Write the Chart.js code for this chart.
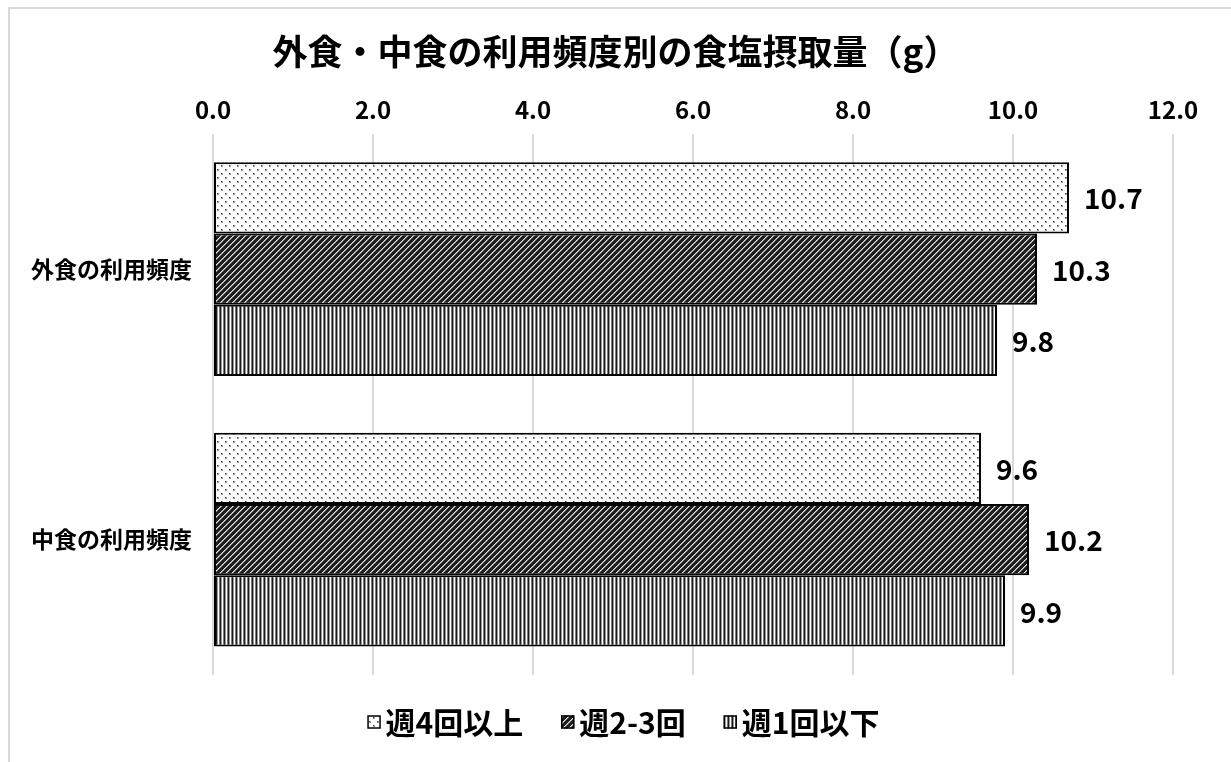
<!DOCTYPE html>
<html>
<head>
<meta charset="utf-8">
<script src="https://cdn.jsdelivr.net/npm/chart.js@4.4.1/dist/chart.umd.min.js"></script>
<style>
  html, body { margin: 0; padding: 0; background: #fff; overflow: hidden; }
  #frame { position: absolute; left: 8px; top: 7px; width: 1300px; height: 800px;
           border: 2px solid #d9d9d9; box-sizing: border-box; }
  #wrap { position: absolute; left: 0; top: 0; width: 1231px; height: 762px; }
</style>
</head>
<body>
<div id="frame"></div>
<div id="wrap"><canvas id="c"></canvas></div>
<script>
// Categories, series and tick values
const categories = ['外食の利用頻度', '中食の利用頻度'];
const seriesNames = ['週4回以上', '週2-3回', '週1回以下'];
const weekly4OrMore = [10.7, 9.6];
const weekly2to3 = [10.3, 10.2];
const weekly1OrLess = [9.8, 9.9];
const xTickValues = [0, 2, 4, 6, 8, 10, 12];
const chartTitle = '外食・中食の利用頻度別の食塩摂取量（g）';

const FONT = '"Noto Sans CJK JP", "Noto Sans", sans-serif';

// Small repeating tiles used as bar fills
function makeTile(w, h, colorAt) {
  const c = document.createElement('canvas');
  c.width = w; c.height = h;
  const g = c.getContext('2d');
  for (let y = 0; y < h; y++) {
    for (let x = 0; x < w; x++) {
      g.fillStyle = colorAt(x, y);
      g.fillRect(x, y, 1, 1);
    }
  }
  return g.createPattern(c, 'repeat');
}

// fine dots on white
const dotFill = makeTile(8, 8, (x, y) => {
  if ((x === 1 || x === 2) && (y === 1 || y === 2)) return (x === 1 && y === 1) ? '#444' : '#9a9a9a';
  if ((x === 5 || x === 6) && (y === 5 || y === 6)) return (x === 5 && y === 5) ? '#444' : '#9a9a9a';
  return '#ffffff';
});
// dark fill with light upward diagonals
const diagFill = makeTile(6, 6, (x, y) => {
  const k = (x + y) % 6;
  if (k === 0) return '#e6e6e6';
  if (k === 1) return '#8a8a8a';
  return '#1e1e1e';
});
// vertical stripes
const stripeFill = makeTile(4, 1, (x) => ['#1a1a1a', '#9a9a9a', '#ffffff', '#7a7a7a'][x]);

const fills = [dotFill, diagFill, stripeFill];
const seriesValues = [weekly4OrMore, weekly2to3, weekly1OrLess];

// value labels at the end of each bar
const valueLabels = {
  id: 'valueLabels',
  afterDatasetsDraw(chart) {
    const ctx = chart.ctx;
    ctx.save();
    ctx.font = 'bold 28px ' + FONT;
    ctx.fillStyle = '#000';
    ctx.textAlign = 'left';
    ctx.textBaseline = 'middle';
    chart.data.datasets.forEach((ds, i) => {
      chart.getDatasetMeta(i).data.forEach((bar, j) => {
        ctx.fillText(ds.data[j].toFixed(1), bar.x + 15, bar.y + 1);
      });
    });
    ctx.restore();
  }
};

// legend row below the plot
const bottomLegend = {
  id: 'bottomLegend',
  afterDraw(chart) {
    const ctx = chart.ctx;
    ctx.save();
    ctx.font = 'bold 30px ' + FONT;
    ctx.textBaseline = 'middle';
    const box = 13, boxGap = 5, itemGap = 38;
    const items = chart.data.datasets.map(ds => ({ ds, w: ctx.measureText(ds.label).width }));
    const total = items.reduce((s, it) => s + box + boxGap + it.w, 0) + itemGap * (items.length - 1);
    let x = chart.width / 2 + 8 - total / 2;
    const yc = 722;
    items.forEach(it => {
      ctx.fillStyle = it.ds.backgroundColor;
      ctx.fillRect(x, yc - box / 2, box, box);
      ctx.strokeStyle = '#000';
      ctx.lineWidth = 1.5;
      ctx.strokeRect(x + 0.5, yc - box / 2 + 0.5, box - 1, box - 1);
      ctx.fillStyle = '#000';
      ctx.fillText(it.ds.label, x + box + boxGap, yc + 1);
      x += box + boxGap + it.w + itemGap;
    });
    ctx.restore();
  }
};

new Chart(document.getElementById('c'), {
  type: 'bar',
  data: {
    labels: categories,
    datasets: seriesNames.map((name, i) => ({
      label: name,
      data: seriesValues[i],
      backgroundColor: fills[i],
      borderColor: '#000',
      borderWidth: 2,
      borderSkipped: false,
      categoryPercentage: 0.79,
      barPercentage: 1.0
    }))
  },
  options: {
    indexAxis: 'y',
    responsive: true,
    maintainAspectRatio: false,
    animation: false,
    layout: { padding: { top: 0, left: 0, right: 0, bottom: 87 } },
    scales: {
      x: {
        position: 'top',
        min: 0,
        max: 12,
        afterBuildTicks(scale) { scale.ticks = xTickValues.map(v => ({ value: v })); },
        afterFit(scale) { scale.height = 134 - 73.2; },
        ticks: {
          padding: 10,
          color: '#000',
          font: { family: FONT, size: 24, weight: 'bold' },
          callback: v => Number(v).toFixed(1)
        },
        grid: { color: '#d9d9d9', lineWidth: 2, drawTicks: false },
        border: { display: false }
      },
      y: {
        afterFit(scale) { scale.width = 213; },
        ticks: {
          padding: 21,
          color: '#000',
          font: { family: FONT, size: 23, weight: 'bold' }
        },
        grid: { display: false, drawTicks: false },
        border: { display: false }
      },
      // empty strip on the right of the plot
      yRight: {
        type: 'category',
        position: 'right',
        afterFit(scale) { scale.width = 58; },
        ticks: { display: false },
        grid: { display: false, drawTicks: false },
        border: { display: false }
      }
    },
    plugins: {
      legend: { display: false },
      tooltip: { enabled: false },
      title: {
        display: true,
        text: chartTitle,
        color: '#000',
        font: { family: FONT, size: 35, weight: 'bold' },
        padding: { top: 31, bottom: 0 }
      }
    }
  },
  plugins: [valueLabels, bottomLegend]
});
</script>
</body>
</html>
